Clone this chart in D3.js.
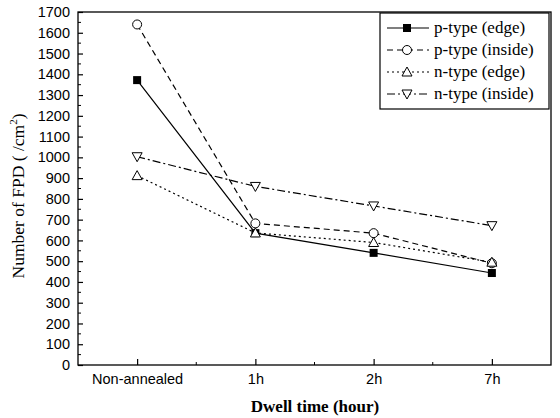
<!DOCTYPE html>
<html><head><meta charset="utf-8">
<script src="https://cdn.jsdelivr.net/npm/d3@7"></script>
<style>body{margin:0;background:#fff}</style>
</head><body><svg id="c" width="560" height="418"></svg>
<script>
const categories = ["Non-annealed", "1h", "2h", "7h"];
const pEdge   = [1372, 635, 540, 443];
const pInside = [1640, 682, 635, 490];
const nEdge   = [912, 636, 590, 495];
const nInside = [1003, 860, 766, 671];
const yTicks = d3.range(0, 1701, 100);
const seriesNames = ["p-type (edge)", "p-type (inside)", "n-type (edge)", "n-type (inside)"];

const series = [
  {name: seriesNames[0], values: pEdge, dash: null, marker: "square"},
  {name: seriesNames[1], values: pInside, dash: "6,4", marker: "circle"},
  {name: seriesNames[2], values: nEdge, dash: "2,3", marker: "up"},
  {name: seriesNames[3], values: nInside, dash: "8,3,2,3", marker: "down"}
];

const L = 78, R = 551, T = 12, B = 365;
const svg = d3.select("#c");
const x = d3.scalePoint().domain(categories).range([L, R]).padding(0.5);
const y = d3.scaleLinear().domain([0, 1700]).range([B, T]);
const sans = "Liberation Sans, Arial, sans-serif";
const serif = "Liberation Serif, Times New Roman, serif";

// frame
svg.append("rect").attr("x", L).attr("y", T).attr("width", R - L).attr("height", B - T)
  .attr("fill", "none").attr("stroke", "#000").attr("stroke-width", 1.3);

// y axis
const yAx = svg.append("g").attr("transform", `translate(${L},0)`)
  .call(d3.axisLeft(y).tickValues(yTicks).tickSize(-5).tickPadding(8).tickFormat(d3.format("d")));
yAx.select(".domain").remove();
yAx.selectAll("text").attr("font-family", sans).attr("font-size", 14.5).attr("fill", "#000");
yAx.selectAll("line").attr("stroke-width", 1.2);
// minor y
svg.append("g").selectAll("line").data(d3.range(50, 1700, 100)).join("line")
  .attr("x1", L).attr("x2", L + 3).attr("y1", d => y(d)).attr("y2", d => y(d))
  .attr("stroke", "#000").attr("stroke-width", 1);

// x axis
const xAx = svg.append("g").attr("transform", `translate(0,${B})`)
  .call(d3.axisBottom(x).tickSize(-6).tickPadding(9));
xAx.select(".domain").remove();
xAx.selectAll("text").attr("font-family", sans).attr("font-size", 14.5).attr("fill", "#000");
xAx.selectAll("line").attr("stroke-width", 1.2);
const step = x.step();
svg.append("g").selectAll("line").data(categories.slice(0, -1)).join("line")
  .attr("x1", d => x(d) + step / 2).attr("x2", d => x(d) + step / 2)
  .attr("y1", B).attr("y2", B - 3).attr("stroke", "#000").attr("stroke-width", 1);

// axis titles
svg.append("text").attr("x", 315).attr("y", 412).attr("text-anchor", "middle")
  .attr("font-family", serif).attr("font-size", 17).attr("font-weight", "bold")
  .text("Dwell time (hour)");
const yt = svg.append("text").attr("transform", `translate(24,196) rotate(-90)`).attr("text-anchor", "middle")
  .attr("font-family", serif).attr("font-size", 17.5);
yt.append("tspan").text("Number of FPD ( /cm");
yt.append("tspan").attr("dy", -7).attr("font-size", 11).text("2");
yt.append("tspan").attr("dy", 7).text(")");

function drawMarker(g, type, cx, cy) {
  if (type === "square") {
    g.append("rect").attr("x", cx - 4).attr("y", cy - 4).attr("width", 8).attr("height", 8).attr("fill", "#000");
  } else if (type === "circle") {
    g.append("circle").attr("cx", cx).attr("cy", cy).attr("r", 4.5).attr("fill", "#fff").attr("stroke", "#000").attr("stroke-width", 1);
  } else if (type === "up") {
    g.append("path").attr("d", `M${cx},${cy - 5}L${cx + 5},${cy + 4}L${cx - 5},${cy + 4}Z`).attr("fill", "#fff").attr("stroke", "#000").attr("stroke-width", 1);
  } else {
    g.append("path").attr("d", `M${cx},${cy + 5}L${cx + 5},${cy - 4}L${cx - 5},${cy - 4}Z`).attr("fill", "#fff").attr("stroke", "#000").attr("stroke-width", 1);
  }
}

const line = d3.line().x((d, i) => x(categories[i])).y(d => y(d));
series.forEach(s => {
  svg.append("path").attr("d", line(s.values)).attr("fill", "none").attr("stroke", "#000")
    .attr("stroke-width", 1.2).attr("stroke-dasharray", s.dash);
});
series.forEach(s => {
  const g = svg.append("g");
  s.values.forEach((v, i) => drawMarker(g, s.marker, x(categories[i]), y(v)));
});

// legend
const lg = svg.append("g");
lg.append("rect").attr("x", 380).attr("y", 13).attr("width", 169).attr("height", 96)
  .attr("fill", "#fff").attr("stroke", "#000").attr("stroke-width", 1.2);
series.forEach((s, i) => {
  const cy = 28 + i * 22;
  lg.append("line").attr("x1", 387).attr("x2", 429).attr("y1", cy).attr("y2", cy)
    .attr("stroke", "#000").attr("stroke-width", 1.2).attr("stroke-dasharray", s.dash);
  drawMarker(lg, s.marker, 407, cy);
  lg.append("text").attr("x", 434).attr("y", cy + 5)
    .attr("font-family", serif).attr("font-size", 17).text(s.name);
});
</script></body></html>
